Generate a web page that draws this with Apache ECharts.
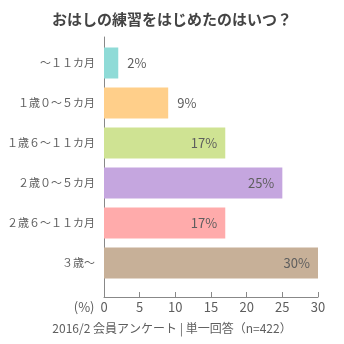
<!DOCTYPE html>
<html>
<head>
<meta charset="utf-8">
<script src="https://cdn.jsdelivr.net/npm/echarts@6/dist/echarts.min.js"></script>
<style>
html,body{margin:0;padding:0;background:#fff;}
#chart{width:344px;height:344px;}
</style>
</head>
<body>
<div id="chart"></div>
<script>
// Age ranges when chopstick practice began
const categories = ['〜１１カ月', '１歳０〜５カ月', '１歳６〜１１カ月', '２歳０〜５カ月', '２歳６〜１１カ月', '３歳〜'];
const values = [2, 9, 17, 25, 17, 30];
const colors = ['#8fdbd7', '#ffcf8a', '#cfe393', '#c5a6df', '#ffabab', '#c7b098'];
const xTicks = [0, 5, 10, 15, 20, 25, 30];

const FONT = '"Noto Sans CJK JP", "Noto Sans", sans-serif';
const textColor = '#5e5e5e';

const chart = echarts.init(document.getElementById('chart'));

const barData = values.map((v, i) => ({
  value: v,
  itemStyle: { color: colors[i] },
  label: v < 10
    ? { position: 'right', distance: 9 }
    : { position: 'insideRight', offset: [-3, 0] }
}));

chart.setOption({
  animation: false,
  backgroundColor: '#fff',
  title: [
    {
      text: 'おはしの練習をはじめたのはいつ？',
      left: 'center',
      top: 7,
      textStyle: { fontFamily: FONT, fontSize: 15, fontWeight: 'bold', color: '#444' }
    },
    {
      text: '2016/2 会員アンケート | 単一回答（n=422）',
      left: 'center',
      top: 317,
      textStyle: { fontFamily: FONT, fontSize: 12, fontWeight: 'normal', color: textColor }
    }
  ],
  grid: [
    { left: 104, right: 26, top: 43, height: 240, outerBoundsMode: 'none', containLabel: false },
    { left: 104, right: 26, top: 37, bottom: 47, outerBoundsMode: 'none', containLabel: false }
  ],
  xAxis: [
    { gridIndex: 0, type: 'value', min: 0, max: 30, interval: 5, show: false },
    {
      gridIndex: 1, type: 'value', min: xTicks[0], max: xTicks[xTicks.length - 1], interval: 5,
      name: '(%)', nameLocation: 'start', nameGap: 9,
      nameTextStyle: { fontFamily: FONT, fontSize: 13, color: textColor, verticalAlign: 'top', padding: [4, 0, 0, 0] },
      axisLine: { show: true, lineStyle: { color: '#888', width: 1 } },
      axisTick: { show: true, inside: true, length: 5, lineStyle: { color: '#888' } },
      axisLabel: { fontFamily: FONT, fontSize: 13, color: textColor, margin: 4 },
      splitLine: { show: false }
    }
  ],
  yAxis: [
    {
      gridIndex: 0, type: 'category', data: categories, inverse: true,
      axisLine: { show: false }, axisTick: { show: false },
      axisLabel: { fontFamily: FONT, fontSize: 11, color: textColor, margin: 9 }
    },
    {
      gridIndex: 1, type: 'value', min: 0, max: 1,
      axisLine: { show: true, lineStyle: { color: '#888', width: 1 } },
      axisTick: { show: false }, axisLabel: { show: false }, splitLine: { show: false }
    }
  ],
  series: [
    {
      type: 'bar',
      xAxisIndex: 0, yAxisIndex: 0,
      barWidth: 31,
      data: barData,
      label: {
        show: true,
        formatter: '{c}%',
        fontFamily: FONT, fontSize: 13, color: textColor
      }
    }
  ]
});
</script>
</body>
</html>
